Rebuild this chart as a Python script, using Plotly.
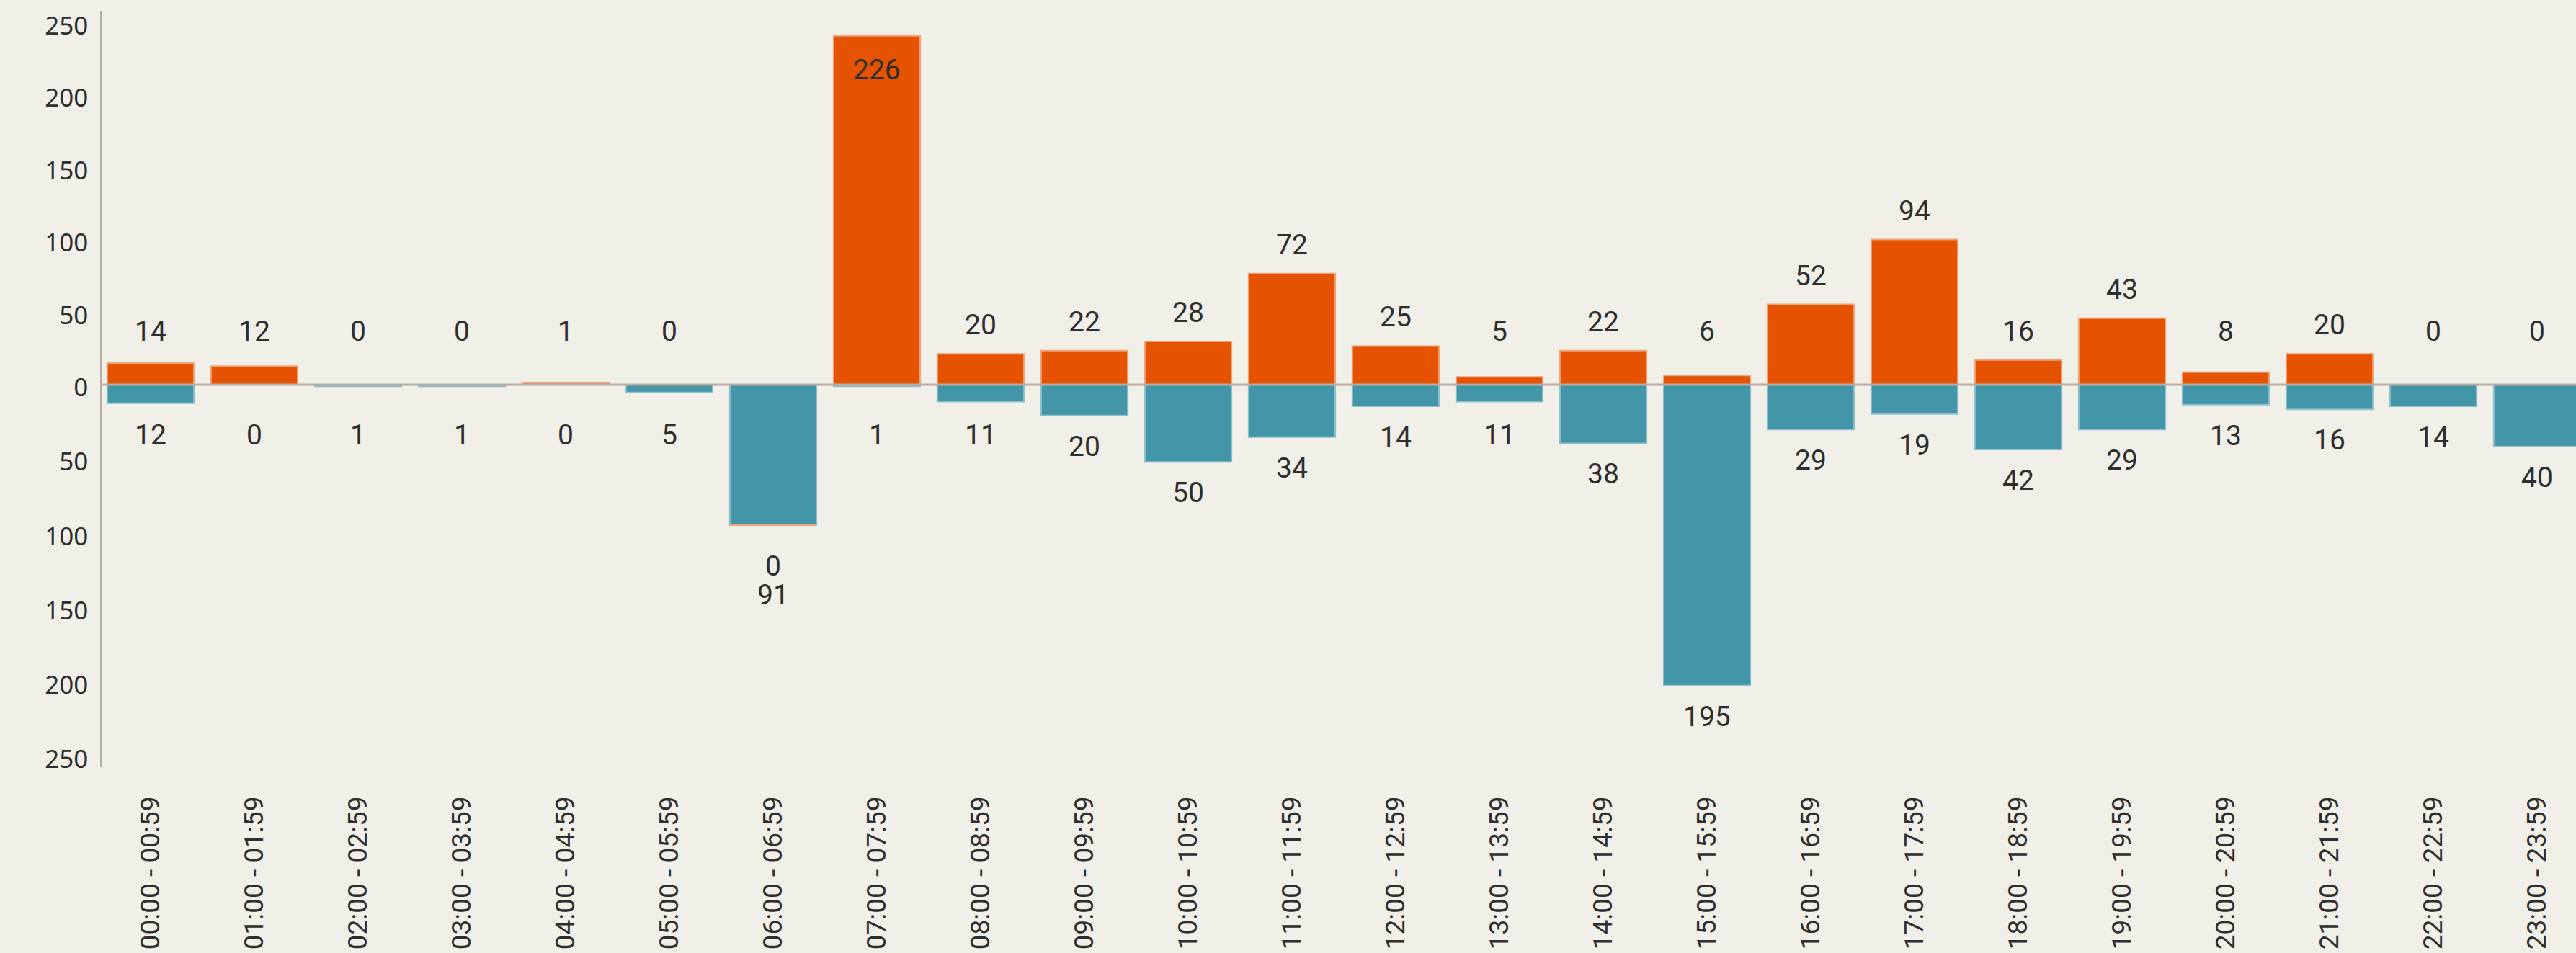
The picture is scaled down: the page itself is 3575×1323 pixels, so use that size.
import plotly.graph_objects as go

# ---------------- data ----------------
hours = [
    "00:00 - 00:59", "01:00 - 01:59", "02:00 - 02:59", "03:00 - 03:59",
    "04:00 - 04:59", "05:00 - 05:59", "06:00 - 06:59", "07:00 - 07:59",
    "08:00 - 08:59", "09:00 - 09:59", "10:00 - 10:59", "11:00 - 11:59",
    "12:00 - 12:59", "13:00 - 13:59", "14:00 - 14:59", "15:00 - 15:59",
    "16:00 - 16:59", "17:00 - 17:59", "18:00 - 18:59", "19:00 - 19:59",
    "20:00 - 20:59", "21:00 - 21:59", "22:00 - 22:59", "23:00 - 23:59",
]
upper_values = [14, 12, 0, 0, 1, 0, 0, 226, 20, 22, 28, 72,
                25, 5, 22, 6, 52, 94, 16, 43, 8, 20, 0, 0]
lower_values = [12, 0, 1, 1, 0, 5, 91, 1, 11, 20, 50, 34,
                14, 11, 38, 195, 29, 19, 42, 29, 13, 16, 14, 40]
y_tick_values = [250, 200, 150, 100, 50, 0, -50, -100, -150, -200, -250]
y_tick_text = [str(abs(v)) for v in y_tick_values]

# ---------------- style ----------------
BG = "#F0EFE8"
ORANGE = "#E55300"
ORANGE_EDGE = "#F0A47A"
TEAL = "#4395A8"
TEAL_EDGE = "#8FC0CC"
AXIS = "#B9ACA3"
TEXT = "#2E2E2E"
W, H = 3575, 1323
M_L, M_R, M_T, M_B = 142, 0, 15, 258
Y_TOP, Y_BOTTOM = 242.2, -247.8
PLOT_H = H - M_T - M_B
PX_PER_UNIT = PLOT_H / (Y_TOP - Y_BOTTOM)
# the reference's axis labels follow their own spacing (px per unit on each side)
TICK_PX_POS, TICK_PX_NEG, TICK_LABEL_DROP = 2.01, 2.064, 4
tick_positions = [((v * (TICK_PX_POS if v > 0 else TICK_PX_NEG)) - TICK_LABEL_DROP) / PX_PER_UNIT
                  for v in y_tick_values]

# value-label placement (pixels)
UP_GAP, UP_MIN = 40, 74
LOW_GAP, LOW_MIN = 43, 70

# categories where the (zero) orange segment sits below the teal one in the reference
UPPER_BELOW = {"06:00 - 06:59"}

LABEL_FAMILY = "Roboto, Noto Sans, sans-serif"
LABEL_FONT = dict(family=LABEL_FAMILY, size=39, color=TEXT)

upper_base = [-lv if h in UPPER_BELOW else 0 for h, lv in zip(hours, lower_values)]
upper_y = [0 if h in UPPER_BELOW else uv for h, uv in zip(hours, upper_values)]

fig = go.Figure()
fig.add_trace(go.Bar(
    x=hours, y=[-v for v in lower_values], base=[0] * len(hours),
    marker=dict(color=TEAL, line=dict(color=TEAL_EDGE, width=2)),
    hoverinfo="skip", showlegend=False,
))
fig.add_trace(go.Bar(
    x=hours, y=upper_y, base=upper_base,
    marker=dict(color=ORANGE, line=dict(color=ORANGE_EDGE, width=2)),
    hoverinfo="skip", showlegend=False,
))

annotations = []
for h, uv, lv in zip(hours, upper_values, lower_values):
    if h in UPPER_BELOW:
        annotations.append(dict(x=h, y=-lv, text=str(uv), yshift=-57))
        annotations.append(dict(x=h, y=-lv, text=str(lv), yshift=-97))
        continue
    inside = uv + 60 / PX_PER_UNIT > Y_TOP
    if inside:
        up_shift = -47
    else:
        up_shift = max(UP_GAP, UP_MIN - uv * PX_PER_UNIT)
    low_shift = -max(LOW_GAP, LOW_MIN - lv * PX_PER_UNIT)
    annotations.append(dict(x=h, y=uv, text=str(uv), yshift=up_shift))
    annotations.append(dict(x=h, y=-lv, text=str(lv), yshift=low_shift))
for a in annotations:
    a.update(xref="x", yref="y", showarrow=False, font=LABEL_FONT,
             xanchor="center", yanchor="middle")

fig.update_layout(
    width=W, height=H,
    margin=dict(l=M_L, r=M_R, t=M_T, b=M_B, pad=0),
    paper_bgcolor=BG, plot_bgcolor=BG,
    barmode="overlay", bargap=0.165,
    annotations=annotations,
    shapes=[dict(type="line", xref="paper", x0=0, x1=1, yref="y", y0=0, y1=0,
                 line=dict(color=AXIS, width=3), layer="above")],
    xaxis=dict(
        type="category", range=[-0.465, 23.375], automargin=False,
        showgrid=False, zeroline=False, showline=False, ticks="",
        tickangle=-90, ticklabelstandoff=32,
        tickfont=dict(family=LABEL_FAMILY, size=37, color=TEXT),
    ),
    yaxis=dict(
        range=[Y_BOTTOM, Y_TOP], automargin=False,
        showgrid=False, zeroline=False,
        showline=True, linecolor=AXIS, linewidth=2.5,
        ticks="", tickmode="array", tickvals=tick_positions, ticktext=y_tick_text,
        ticklabelstandoff=10,
        tickfont=dict(family="Noto Sans", size=35, color=TEXT),
    ),
)

fig.write_html(
    "out.html",
    config={"displayModeBar": False},
    post_script="document.body.style.margin='0';document.body.style.overflow='hidden';",
)
